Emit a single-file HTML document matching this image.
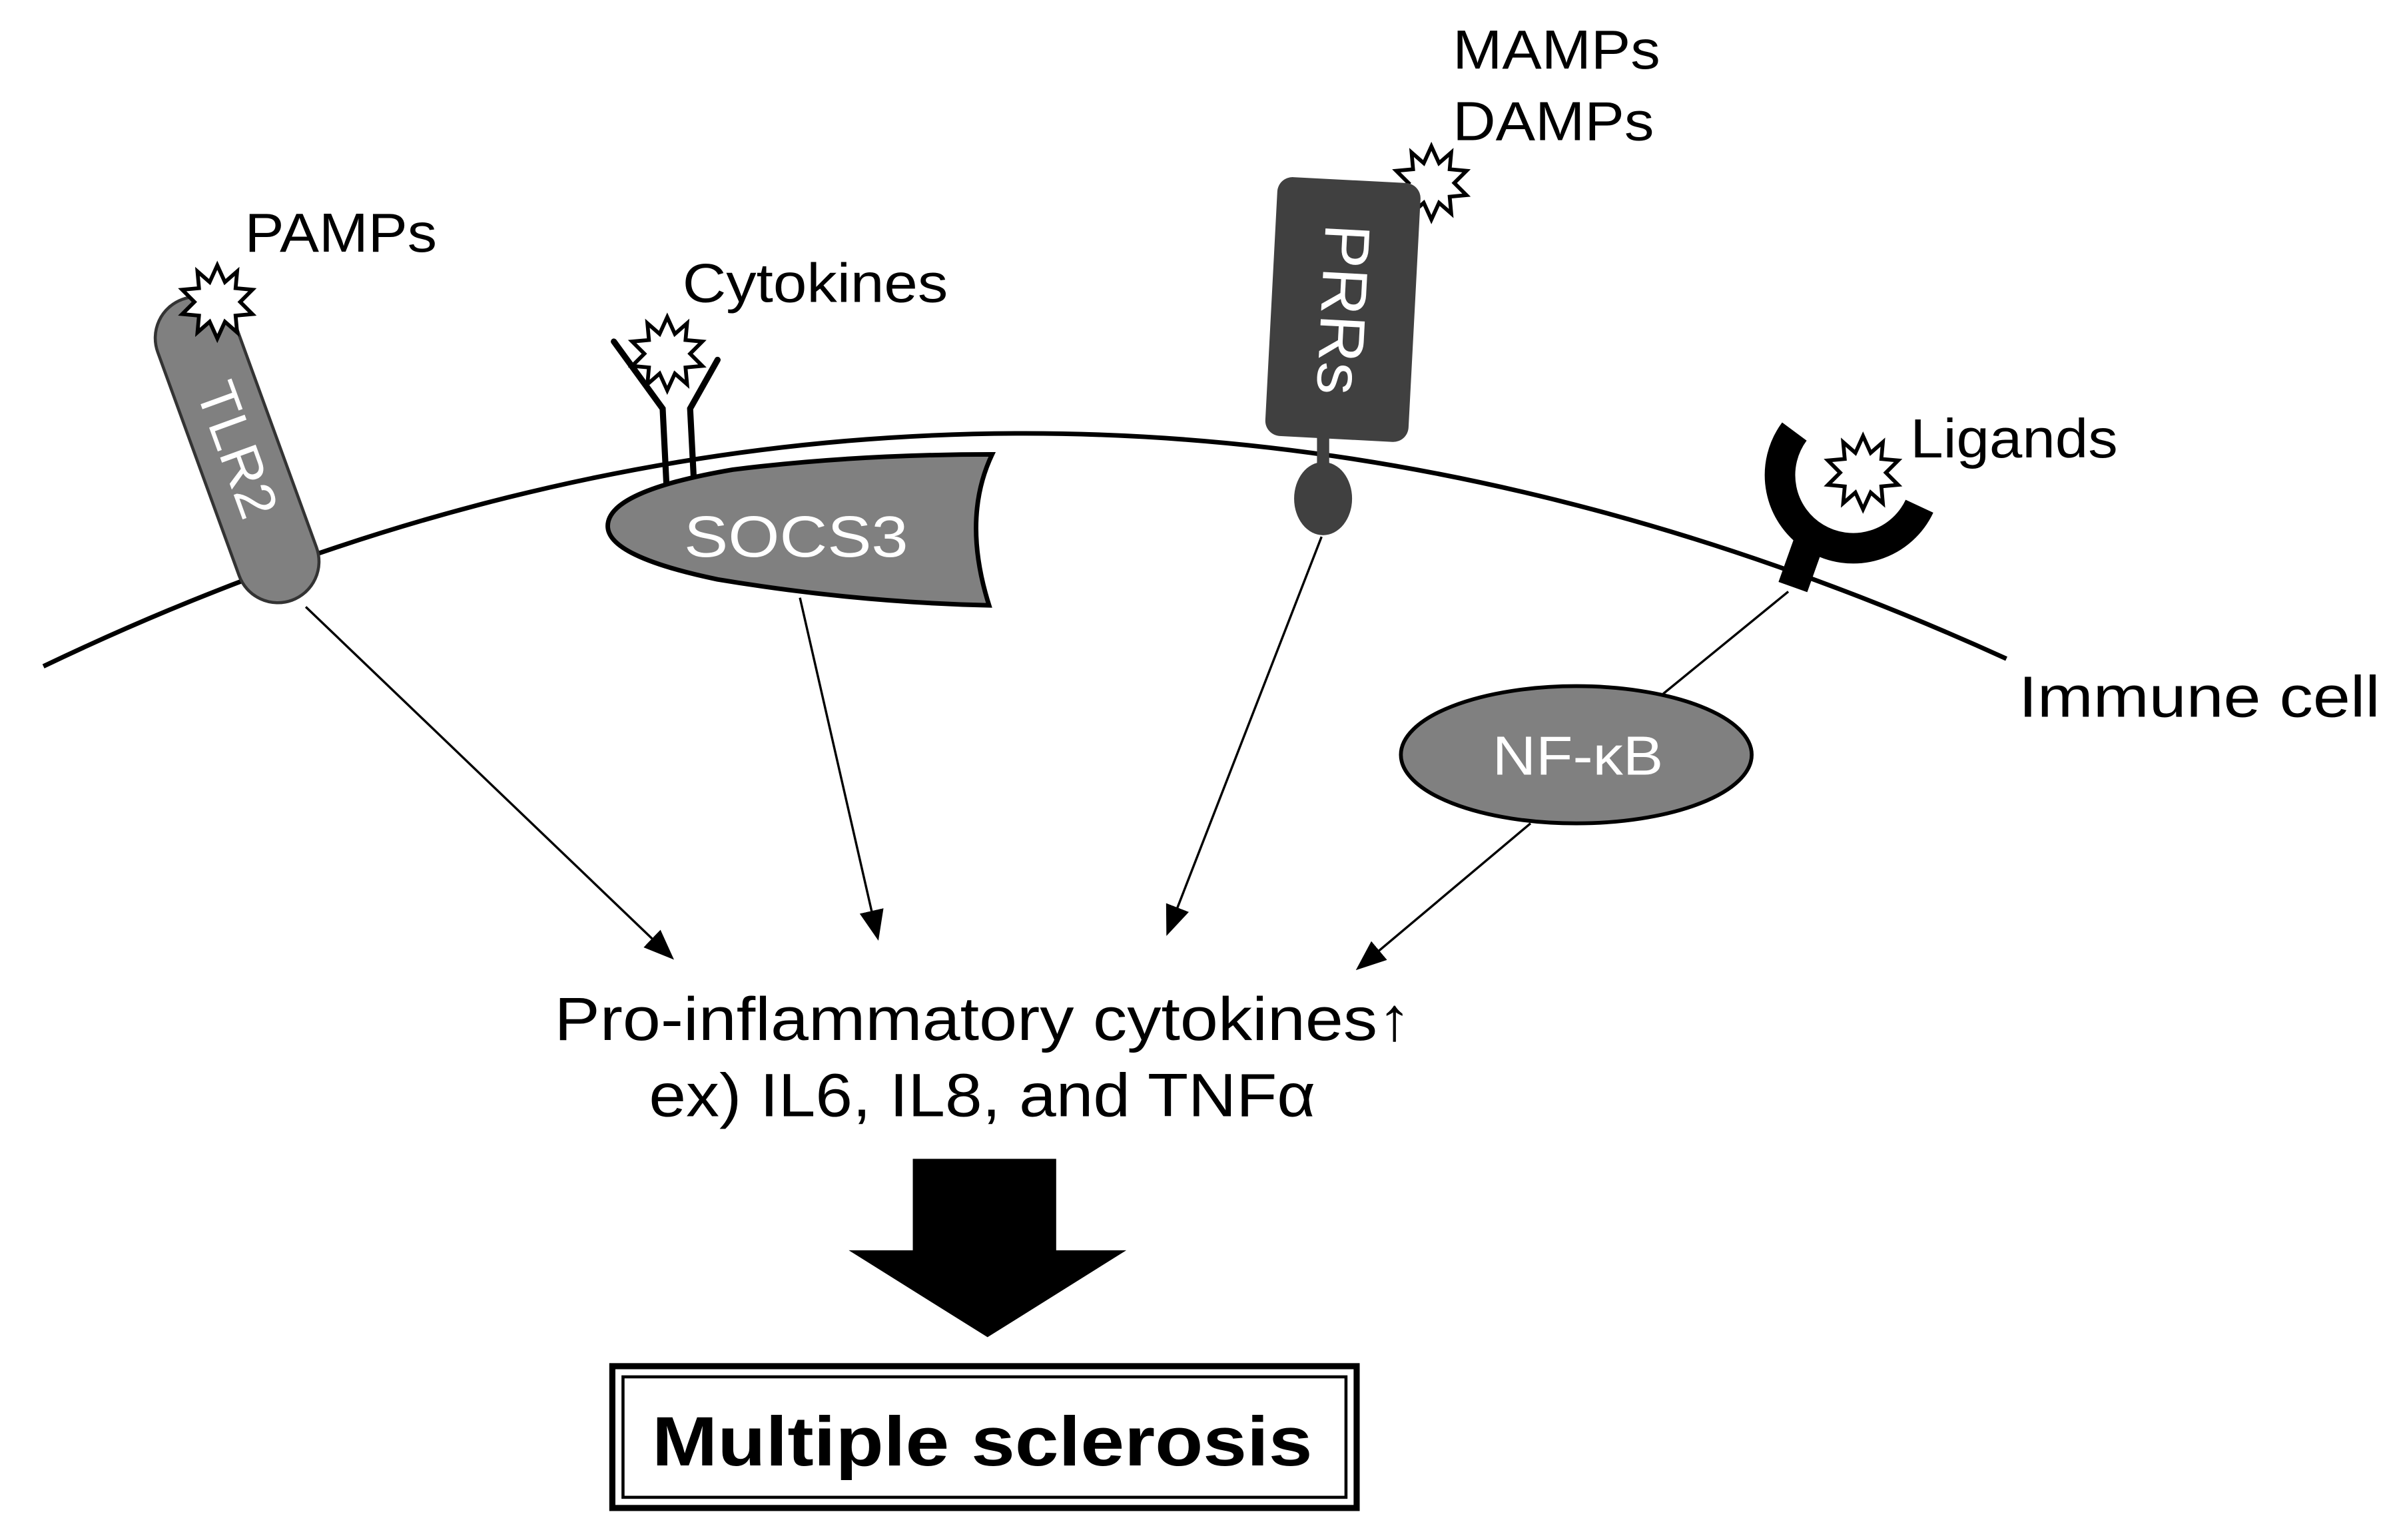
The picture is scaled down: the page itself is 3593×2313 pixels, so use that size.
<!DOCTYPE html>
<html><head><style>html,body{margin:0;padding:0;background:#fff}svg{display:block}</style></head>
<body>
<svg width="3593" height="2313" viewBox="0 0 1568 1010" xmlns="http://www.w3.org/2000/svg" font-family="Liberation Sans, Arial, sans-serif">
<defs>
<marker id="ah2" viewBox="0 0 10 10" refX="9" refY="5" markerWidth="20" markerHeight="20" markerUnits="userSpaceOnUse" orient="auto">
<path d="M0,1 L10,5 L0,9 z" fill="#000"/></marker>
</defs>
<path d="M28,437 Q660,134 1315,432" fill="none" stroke="#000" stroke-width="3"/>
<!-- TLR2 -->
<g transform="translate(155,295) rotate(-20)">
<rect x="-27" y="-105" width="54" height="210" rx="27" fill="#808080" stroke="#333" stroke-width="2"/>
<text x="0" y="0" transform="rotate(90)" text-anchor="middle" dominant-baseline="central" fill="#fff" font-size="36" textLength="92" lengthAdjust="spacingAndGlyphs">TLR2</text>
</g>
<g fill="#fff" stroke="#000" stroke-width="2.5">
<polygon points="0,-24 5,-13 13,-20 12,-9 23,-8 15,0 23,8 12,9 13,20 5,13 0,24 -5,13 -13,20 -12,9 -23,8 -15,0 -23,-8 -12,-9 -13,-20 -5,-13" transform="translate(142,198)"/>
<polygon points="0,-24 5,-13 13,-20 12,-9 23,-8 15,0 23,8 12,9 13,20 5,13 0,24 -5,13 -13,20 -12,9 -23,8 -15,0 -23,-8 -12,-9 -13,-20 -5,-13" transform="translate(437,232)"/>
<polygon points="0,-24 5,-13 13,-20 12,-9 23,-8 15,0 23,8 12,9 13,20 5,13 0,24 -5,13 -13,20 -12,9 -23,8 -15,0 -23,-8 -12,-9 -13,-20 -5,-13" transform="translate(938,120)"/>
<polygon points="0,-24 5,-13 13,-20 12,-9 23,-8 15,0 23,8 12,9 13,20 5,13 0,24 -5,13 -13,20 -12,9 -23,8 -15,0 -23,-8 -12,-9 -13,-20 -5,-13" transform="translate(1221,310)"/>
</g>
<g font-size="36" lengthAdjust="spacingAndGlyphs">
<text x="160" y="165" textLength="126" lengthAdjust="spacingAndGlyphs">PAMPs</text>
<text x="447" y="198" textLength="174" lengthAdjust="spacingAndGlyphs">Cytokines</text>
<text x="952" y="45" textLength="136" lengthAdjust="spacingAndGlyphs">MAMPs</text>
<text x="952" y="92" textLength="132" lengthAdjust="spacingAndGlyphs">DAMPs</text>
<text x="1252" y="300" textLength="136" lengthAdjust="spacingAndGlyphs">Ligands</text>
<text x="1323" y="470" font-size="38" textLength="237" lengthAdjust="spacingAndGlyphs">Immune cell</text>
</g>
<g fill="none" stroke="#000" stroke-width="4" stroke-linecap="round">
<path d="M437,328 L434,268 L402,224"/>
<path d="M455,326 L452,268 L470,236"/>
</g>
<!-- SOCS3 -->
<path d="M650,298 Q630,340 648,397 Q560,395 470,380 Q398,365 398,345 Q398,322 480,308 Q560,298 650,298 Z" fill="#808080" stroke="#000" stroke-width="3"/>
<text x="448" y="365" font-size="38" fill="#fff" textLength="147" lengthAdjust="spacingAndGlyphs">SOCS3</text>
<!-- PRRs -->
<g transform="translate(880,203) rotate(3)">
<rect x="-47" y="-85" width="94" height="170" rx="10" fill="#404040"/>
<text x="0" y="0" transform="rotate(90)" text-anchor="middle" dominant-baseline="central" fill="#fff" font-size="42" textLength="112" lengthAdjust="spacingAndGlyphs">PRRs</text>
</g>
<rect x="863" y="284" width="8" height="22" fill="#404040"/>
<ellipse cx="867" cy="327" rx="19" ry="24" fill="#404040"/>
<!-- ligand receptor -->
<path d="M1176,283 A48,48 0 1 0 1258,332" fill="none" stroke="#000" stroke-width="20"/>
<path d="M1190,343 L1175,385" stroke="#000" stroke-width="20"/>
<!-- NF-kB -->
<ellipse cx="1033" cy="495" rx="115" ry="45" fill="#808080" stroke="#000" stroke-width="2.5"/>
<text x="978" y="508" font-size="36" fill="#fff" textLength="112" lengthAdjust="spacingAndGlyphs">NF-κB</text>
<g stroke="#000" stroke-width="1.5" fill="none" marker-end="url(#ah2)">
<line x1="200" y1="398" x2="440" y2="628"/>
<line x1="524" y1="392" x2="575" y2="615"/>
<line x1="866" y1="352" x2="765" y2="612"/>
<line x1="1003" y1="540" x2="890" y2="635"/>
</g>
<line x1="1172" y1="388" x2="1090" y2="455" stroke="#000" stroke-width="1.5"/>
<text x="363" y="682" font-size="40" textLength="562" lengthAdjust="spacingAndGlyphs">Pro-inflammatory cytokines↑</text>
<text x="425" y="732" font-size="40" textLength="437" lengthAdjust="spacingAndGlyphs">ex) IL6, IL8, and TNFα</text>
<path d="M598,760 H692 V820 H738 L647,877 L556,820 H598 Z" fill="#000"/>
<rect x="401" y="896" width="488" height="93" fill="none" stroke="#000" stroke-width="4"/>
<rect x="408" y="903" width="474" height="79" fill="none" stroke="#000" stroke-width="2"/>
<text x="427" y="961" font-size="46" font-weight="bold" textLength="433" lengthAdjust="spacingAndGlyphs">Multiple sclerosis</text>
</svg>
</body></html>
